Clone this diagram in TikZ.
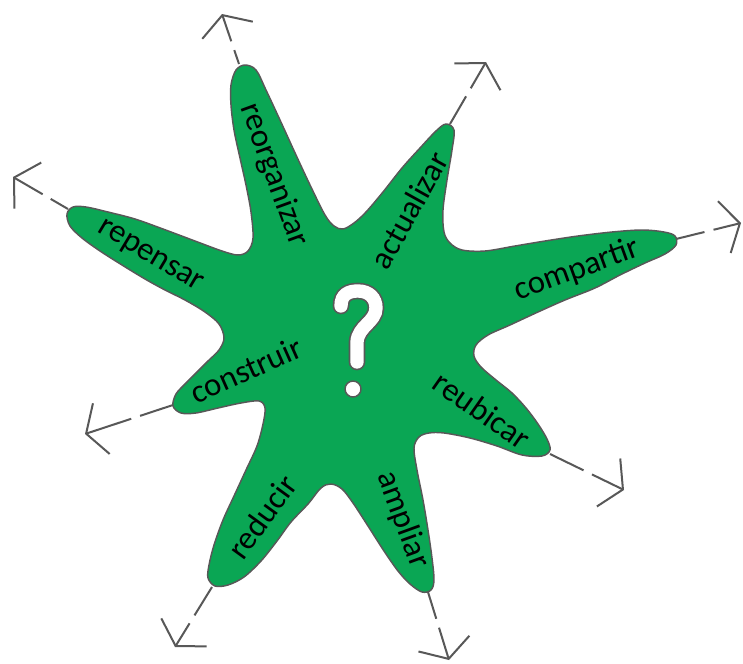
\documentclass[tikz,border=0pt]{standalone}
\usepackage{fontspec}
\setmainfont{Carlito}
\usetikzlibrary{arrows.meta}
\definecolor{stargreen}{RGB}{10,166,84}
\definecolor{edgegrey}{RGB}{88,88,88}
\begin{document}
\begin{tikzpicture}[x=0.75pt,y=-0.75pt,
  armlabel/.style={font=\fontsize{24.5}{28}\selectfont, inner sep=0pt, text=black},
  ray/.style={draw=edgegrey, line width=1.5pt, dash pattern=on #1 off 7pt on 300pt,
    -{Straight Barb[length=12pt,width=40pt,line width=1.5pt]}},
]
\useasboundingbox (0,0) rectangle (743,664);
\fill[white] (0,0) rectangle (743,664);

% star body
\filldraw[fill=stargreen, draw=edgegrey, line width=1.1pt] plot[smooth cycle, tension=0.55] coordinates {
 (236,70) (245,65) (256,70) (266,90) (280,120) (296,155) (311,187) (325,215) (334,226) (343,229) (354,223)
 (366,212) (383,192) (402,168) (420,148) (436,131) (446,124) (454,130) (452,150) (447,180) (443,210) (444,232) (450,243) (462,250)
 (485,251) (515,246) (545,241) (578,236) (612,232) (642,230) (664,232) (675,236) (676,245) (665,254) (645,263) (620,275) (595,288) (565,300) (538,312) (510,325) (488,335) (476,345) (474,356) (481,367)
 (496,380) (512,393) (526,408) (538,424) (547,439) (550,450) (542,456) (522,455) (497,446) (470,438) (444,433) (429,433) (419,437) (414,448)
 (417,470) (423,500) (428,530) (432,558) (434,580) (431,590) (422,592) (410,584) (398,571) (384,551) (368,526) (353,503) (342,489) (331,484) (321,488)
 (308,504) (291,522) (277,541) (261,561) (244,577) (228,585) (215,586) (208,578) (209,565) (214,545) (223,520) (234,496) (246,470) (257,446) (263,424) (265,408) (259,401)
 (241,403) (218,408) (196,413) (181,413) (173,406) (176,394) (186,383) (197,372) (208,361) (219,350) (224,338) (219,324)
 (205,312) (185,300) (165,290) (145,279) (122,265) (100,251) (82,238) (70,226) (67,214) (73,207) (86,207) (108,212) (135,219) (163,229) (195,241) (222,251) (238,255) (248,251)
 (253,238) (251,212) (246,185) (240,158) (234,130) (231,105) (231,85)
};

% question mark
\draw[edgegrey, line width=12.5pt, line cap=round]
  (341,306) .. controls (341,294) and (349,291) .. (358,291)
  .. controls (369,291) and (376,298) .. (376,308)
  .. controls (376,322) and (358,326) .. (357,342) -- (357,362);
\draw[white, line width=10pt, line cap=round]
  (341,306) .. controls (341,294) and (349,291) .. (358,291)
  .. controls (369,291) and (376,298) .. (376,308)
  .. controls (376,322) and (358,326) .. (357,342) -- (357,362);
\filldraw[fill=white, draw=edgegrey, line width=1.1pt] (353,389) circle[radius=8];

% arm tips and arrow ends
\coordinate (tReorg) at (239,64);  \coordinate (eReorg) at (222,14);
\coordinate (tRep)   at (68,209);  \coordinate (eRep)   at (13,177);
\coordinate (tAct)   at (450,124); \coordinate (eAct)   at (486,62);
\coordinate (tComp)  at (676,239); \coordinate (eComp)  at (741,223);
\coordinate (tCons)  at (173,405); \coordinate (eCons)  at (85,434);
\coordinate (tRed)   at (212,587); \coordinate (eRed)   at (175,647);
\coordinate (tReub)  at (550,454); \coordinate (eReub)  at (624,490);
\coordinate (tAmp)   at (428,592); \coordinate (eAmp)   at (449,660);

\draw[ray=11pt] (tReorg) -- (eReorg);
\draw[ray=15pt] (tRep) -- (eRep);
\draw[ray=24pt] (tAct) -- (eAct);
\draw[ray=22pt] (tComp) -- (eComp);
\draw[ray=26pt] (tCons) -- (eCons);
\draw[ray=25pt] (tRed) -- (eRed);
\draw[ray=28pt] (tReub) -- (eReub);
\draw[ray=21pt] (tAmp) -- (eAmp);

% labels
\node[armlabel, rotate=-70] (lReorg) at (274,175) {reorganizar};
\node[armlabel, rotate=-31] (lRep)   at (150,257) {repensar};
\node[armlabel, rotate=61]  (lAct)   at (409,210) {actualizar};
\node[armlabel, rotate=20]  (lComp)  at (577,270) {compartir};
\node[armlabel, rotate=24]  (lCons)  at (246,370) {construir};
\node[armlabel, rotate=-35] (lReub)  at (482,410) {reubicar};
\node[armlabel, rotate=-70] (lAmp)   at (403,520) {ampliar};
\node[armlabel, rotate=54]  (lRed)   at (262,517) {reducir};
\end{tikzpicture}
\end{document}
